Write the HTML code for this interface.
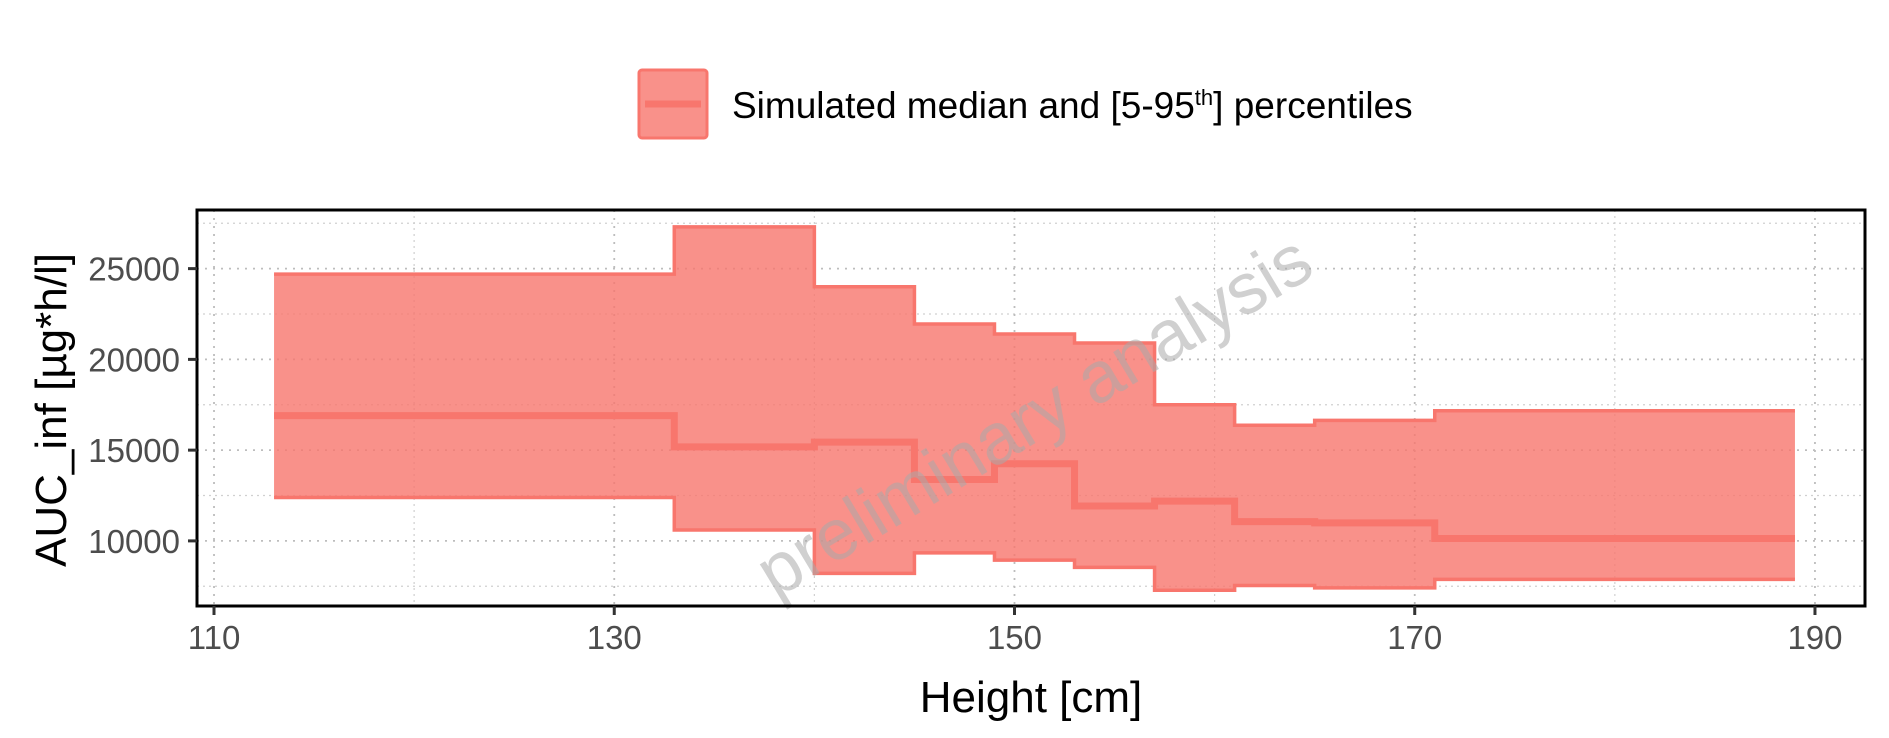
<!DOCTYPE html>
<html><head><meta charset="utf-8">
<style>
html,body{margin:0;padding:0;background:#fff;}
svg{display:block;font-family:"Liberation Sans",Arial,sans-serif;}
</style></head>
<body>
<svg id="chart" width="1889" height="738" viewBox="0 0 1889 738" xmlns="http://www.w3.org/2000/svg">
  <rect width="1889" height="738" fill="#fff"/>
  <g id="legend">
    <rect x="639" y="70" width="68" height="68" rx="3" fill="#F8766D" fill-opacity="0.8" stroke="#F8766D" stroke-width="3"/>
    <line x1="645" x2="701" y1="104" y2="104" stroke="#F8766D" stroke-width="7"/>
    <text x="732" y="118" font-size="37" fill="#000">Simulated median and [5-95<tspan font-size="22" dy="-13">th</tspan><tspan dy="13">] percentiles</tspan></text>
  </g>
  <g id="grid"></g>
  <g id="marks"></g>
  <text x="1034" y="440" font-size="72" fill="#aaaaaa" fill-opacity="0.55" text-anchor="middle" transform="rotate(-31 1034 416)">preliminary analysis</text>
  <rect x="197" y="210" width="1668" height="396" fill="none" stroke="#000" stroke-width="3"/>
  <g id="axes"></g>
  <text x="1031" y="712" font-size="44" text-anchor="middle" fill="#000">Height [cm]</text>
  <text x="0" y="0" font-size="44" text-anchor="middle" fill="#000" transform="translate(66 410) rotate(-90)">AUC_inf [µg*h/l]</text>
</svg>
<script>
const xEdges = [113, 133, 140, 145, 149, 153, 157, 161, 165, 171, 189];
const upperVals = [24700, 27300, 24000, 21950, 21400, 20900, 17500, 16370, 16640, 17170];
const medianVals = [16900, 15180, 15440, 13380, 14250, 11920, 12190, 11060, 10990, 10130];
const lowerVals = [12390, 10600, 8210, 9340, 8940, 8540, 7280, 7540, 7410, 7880];
const xTicks = [110, 130, 150, 170, 190];
const xMinor = [120, 140, 160, 180];
const yTicks = [10000, 15000, 20000, 25000];
const yMinor = [7500, 12500, 17500, 22500, 27500];

const NS = "http://www.w3.org/2000/svg";
const L = 197, R = 1865, T = 210, B = 606;
const xMin = 109.15, xMax = 192.5, yMin = 6413, yMax = 28230;
function xs(v){ return L + (v - xMin) / (xMax - xMin) * (R - L); }
function ys(v){ return B - (v - yMin) / (yMax - yMin) * (B - T); }
function mk(tag, attrs, parent){ const e = document.createElementNS(NS, tag); for (const k in attrs) e.setAttribute(k, attrs[k]); parent.appendChild(e); return e; }

const grid = document.getElementById('grid');
xMinor.forEach(v => {
  const l = mk('line', {x1: xs(v), x2: xs(v), y1: T, y2: B, stroke: '#d0d0d0', 'stroke-width': 1.2, 'stroke-dasharray': '2 4'}, grid);
  
  
});
yMinor.forEach(v => {
  const l = mk('line', {x1: L, x2: R, y1: ys(v), y2: ys(v), stroke: '#d0d0d0', 'stroke-width': 1.2, 'stroke-dasharray': '2 4'}, grid);
  
  
});
xTicks.forEach(v => {
  const l = mk('line', {x1: xs(v), x2: xs(v), y1: T, y2: B, stroke: '#bdbdbd', 'stroke-width': 1.8, 'stroke-dasharray': '2 6'}, grid);
  
  
});
yTicks.forEach(v => {
  const l = mk('line', {x1: L, x2: R, y1: ys(v), y2: ys(v), stroke: '#bdbdbd', 'stroke-width': 1.8, 'stroke-dasharray': '2 6'}, grid);
  
  
});

function stepPath(vals){
  let d = '';
  vals.forEach((v, i) => {
    d += (i === 0 ? 'M' : 'L') + xs(xEdges[i]) + ',' + ys(v) + 'L' + xs(xEdges[i + 1]) + ',' + ys(v);
  });
  return d;
}
const marks = document.getElementById('marks');
let ribbon = '';
upperVals.forEach((v, i) => { ribbon += (i === 0 ? 'M' : 'L') + xs(xEdges[i]) + ',' + ys(v) + 'L' + xs(xEdges[i + 1]) + ',' + ys(v); });
for (let i = lowerVals.length - 1; i >= 0; i--) { ribbon += 'L' + xs(xEdges[i + 1]) + ',' + ys(lowerVals[i]) + 'L' + xs(xEdges[i]) + ',' + ys(lowerVals[i]); }
ribbon += 'Z';
const rib = mk('path', {d: ribbon, fill: '#F8766D', 'fill-opacity': 0.8, stroke: 'none'}, marks);


const up = mk('path', {d: stepPath(upperVals), fill: 'none', stroke: '#F8766D', 'stroke-width': 3.5}, marks);


const lo = mk('path', {d: stepPath(lowerVals), fill: 'none', stroke: '#F8766D', 'stroke-width': 3.5}, marks);


const med = mk('path', {d: stepPath(medianVals), fill: 'none', stroke: '#F8766D', 'stroke-width': 7}, marks);



const axes = document.getElementById('axes');
xTicks.forEach(v => {
  const t = mk('line', {x1: xs(v), x2: xs(v), y1: B, y2: B + 9, stroke: '#333', 'stroke-width': 3}, axes);
  
  
  const lb = mk('text', {x: xs(v), y: B + 43, 'font-size': 33, 'text-anchor': 'middle', fill: '#4d4d4d'}, axes);
  lb.textContent = String(v);
  
  
});
yTicks.forEach(v => {
  const t = mk('line', {x1: L - 9, x2: L, y1: ys(v), y2: ys(v), stroke: '#333', 'stroke-width': 3}, axes);
  
  
  const lb = mk('text', {x: L - 17, y: ys(v) + 12, 'font-size': 33, 'text-anchor': 'end', fill: '#4d4d4d'}, axes);
  lb.textContent = String(v);
  
  
});
</script>
</body></html>
